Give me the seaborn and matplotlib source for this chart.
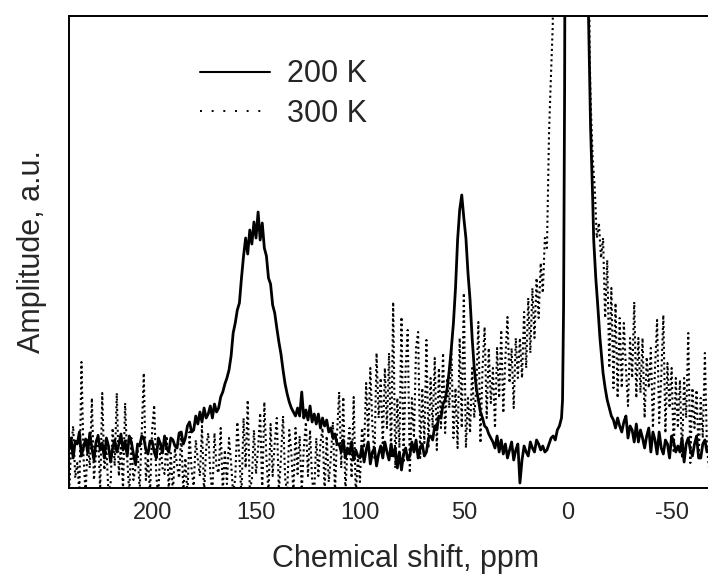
import numpy as np
import pandas as pd
import matplotlib
matplotlib.use("Agg")
import matplotlib.pyplot as plt
from matplotlib.lines import Line2D
import seaborn as sns

# --- Data (amplitude in arbitrary units) ---
# 200 K spectrum (solid), 1 ppm steps away from the central line
ppm_200 = (list(range(240, 2, -1))
           + [2.5, 2, 1.5, 1, -9, -10, -11, -12, -12.5, -13.5, -14.5, -15.5,
              -17, -18, -19, -20, -21, -22, -23]
           + list(range(-24, -69, -1)))
amp_200 = ([38, 50, 30, 47, 44, 56, 32, 41, 49, 35,      # 240..231
            55, 40, 28, 46, 52, 38, 45, 30, 50, 42,      # 230..221
            26, 40, 48, 36, 44, 54, 38, 47, 32, 52,      # 220..211
            46, 34, 24, 44, 42, 52, 50, 38, 34, 47,      # 210..201
            47, 36, 30, 50, 44, 35, 52, 40, 36, 50,      # 200..191
            48, 42, 40, 55, 56, 44, 50, 62, 66, 56,      # 190..181
            58, 72, 64, 76, 66, 80, 70, 74, 82, 70,      # 180..171
            84, 76, 80, 91, 96, 104, 110, 118, 132, 155,  # 170..161
            165, 178, 185, 210, 232, 250, 234, 258, 244, 266,  # 160..151
            250, 276, 248, 265, 240, 232, 210, 204, 183, 175,  # 150..141
            160, 146, 134, 118, 104, 94, 86, 80, 76, 72,  # 140..131
            80, 72, 96, 70, 78, 68, 82, 66, 74, 64,      # 130..121
            74, 60, 70, 62, 68, 56, 60, 50, 54, 44,      # 120..111
            44, 36, 48, 30, 40, 34, 46, 28, 38, 32,      # 110..101
            30, 42, 26, 38, 46, 24, 36, 40, 22, 34,      # 100..91
            42, 30, 46, 36, 28, 44, 32, 40, 20, 36,      # 90..81
            18, 34, 40, 28, 32, 46, 36, 48, 30, 40,      # 80..71
            44, 32, 36, 50, 52, 48, 62, 58, 72, 70,      # 70..61
            84, 88, 100, 118, 140, 165, 200, 248, 278, 293,  # 60..51
            270, 250, 215, 188, 150, 120, 100, 88, 76, 70,  # 50..41
            62, 60, 54, 50, 46, 40, 52, 36, 48, 34,      # 40..31
            44, 30, 38, 46, 28, 38, 44, 5, 28, 42,       # 30..21
            36, 32, 46, 40, 36, 48, 44, 38, 42, 36,      # 20..11
            38, 44, 50, 52, 48, 58, 62, 70]              # 10..3
           + [88, 180, 400, 800, 800, 472, 360, 290, 248, 210, 181, 150,
              115, 100, 88, 80, 72, 68, 60]
           + [70, 62, 56, 66, 72, 50, 62, 58, 46, 64,    # -24..-33
              46, 58, 50, 40, 52, 60, 36, 56, 48, 34,    # -34..-43
              56, 40, 34, 48, 44, 30, 52, 46, 36, 42,    # -44..-53
              36, 50, 26, 44, 50, 38, 32, 44, 52, 30,    # -54..-63
              30, 44, 48, 36, 38])                       # -64..-68

# 300 K spectrum (dotted)
ppm_300 = (list(range(240, 22, -1))
           + [22, 21, 20, 19, 18, 17, 16, 15, 14, 13, 12, 11, 10, 9.5, 9, 8.2, 7.2, 6.5,
              -10, -10.5, -11, -12, -13, -14, -15, -16, -17, -18, -19, -20, -21, -22,
              -23, -24, -25]
           + list(range(-26, -69, -1)))
amp_300 = ([-8, 40, 62, 10, 25, -5, 126, 30, -6, 48,      # 240..231
            20, 90, 8, 35, 55, -4, 95, 18, 40, -6,        # 230..221
            4, 60, 22, 95, 12, 45, -2, 85, 30, -6,        # 220..211
            50, 8, 20, 40, -4, 55, 115, 8, 30, -6,        # 210..201
            58, 83, 12, -8, 45, 20, 14, 52, -2, 35,       # 200..191
            -6, 40, 22, 10, 56, -4, 30, -8, 56, 18,       # 190..181
            2, 48, 28, 12, 62, -5, 40, 55, 15, -6,        # 180..171
            55, 20, 15, 60, -4, 38, 4, 50, 25, -6,        # 170..161
            10, 66, 30, -8, 70, 20, 88, -2, 8, 58,        # 160..151
            14, 40, 75, -6, 86, 30, -6, 64, 12, 45,       # 150..141
            70, -4, 30, 72, 10, -6, 58, 35, -6, 60,       # 140..131
            14, 52, -4, 40, 66, 12, 58, 8, -6, 50,        # 130..121
            12, 45, 60, -4, 52, 6, 30, 66, -6, 55,        # 120..111
            96, 20, 91, -4, 40, 60, 10, 91, -8, 30,       # 110..101
            6, 60, 40, 105, 50, 120, 62, 30, 135, 70,     # 100..91
            110, 40, 120, 60, 135, 30, 186, 20, 90, 40,   # 90..81
            171, 25, 120, 158, 15, 90, 50, 140, 156, 30,  # 80..71
            100, 45, 148, 40, 110, 60, 130, 38, 120, 60,  # 70..61
            135, 55, 110, 80, 140, 50, 100, 40, 150, 60,  # 60..51
            195, 40, 90, 55, 120, 70, 100, 166, 45, 120,  # 50..41
            161, 70, 140, 85, 120, 60, 140, 90, 158, 75,  # 40..31
            130, 171, 105, 140, 80, 150, 110, 150]        # 30..23
           + [110, 176, 120, 190, 135, 200, 150, 210, 170, 225, 195, 250, 240, 300, 355,
              405, 463, 800, 800, 440, 388, 330, 300, 250, 265, 230, 250, 170, 228, 120,
              200, 100, 185, 90, 170]
           + [100, 165, 120, 82, 150, 110, 186, 90, 150, 95,   # -26..-35
              150, 70, 131, 100, 140, 60, 120, 168, 65, 110,   # -36..-45
              173, 55, 125, 80, 120, 35, 110, 60, 108, 30,     # -46..-55
              110, 70, 155, 25, 100, 60, 98, 30, 90, 50,       # -56..-65
              135, 40, 20])                                    # -66..-68

x_ticks = [200, 150, 100, 50, 0, -50]
labels = ["200 K", "300 K"]

df_200 = pd.DataFrame({"ppm": ppm_200, "amp": amp_200})
df_300 = pd.DataFrame({"ppm": ppm_300, "amp": amp_300})

# --- Plot ---
sns.set_style("white")
plt.rcParams['font.family'] = ['Liberation Sans', 'DejaVu Sans']

fig = plt.figure(figsize=(7.08, 5.77), dpi=100)
ax = fig.add_axes([69 / 708, 89 / 577, 639 / 708, 472 / 577])

sns.lineplot(data=df_300, x="ppm", y="amp", estimator=None, sort=False, ax=ax,
             color="black", linewidth=1.5, linestyle=(0, (1, 1.5)))
sns.lineplot(data=df_200, x="ppm", y="amp", estimator=None, sort=False, ax=ax,
             color="black", linewidth=2.0)

ax.set_xlim(240, -67.5)
ax.set_ylim(0, 472)
ax.set_xticks(x_ticks)
ax.set_xticklabels([str(t) for t in x_ticks])
ax.set_yticks([])
ax.tick_params(axis="x", direction="in", length=4.5, width=1.1, labelsize=17, pad=10)

for side in ["left", "top", "bottom"]:
    ax.spines[side].set_color("black")
    ax.spines[side].set_linewidth(1.4)
ax.spines["right"].set_visible(False)

ax.set_xlabel("Chemical shift, ppm", fontsize=22)
ax.xaxis.set_label_coords(0.526, -0.119)
ax.set_ylabel("Amplitude, a.u.", fontsize=22, labelpad=16)

handles = [Line2D([0], [0], color="black", linewidth=1.5),
           Line2D([0], [0], color="black", linewidth=1.4, linestyle=(0, (1, 5)))]
ax.legend(handles, labels, loc="upper left", bbox_to_anchor=(0.205, 0.908),
          frameon=False, fontsize=22, handlelength=2.3, handletextpad=0.55,
          labelspacing=0.3, borderpad=0, borderaxespad=0)

fig.savefig("out.png", dpi=100)
